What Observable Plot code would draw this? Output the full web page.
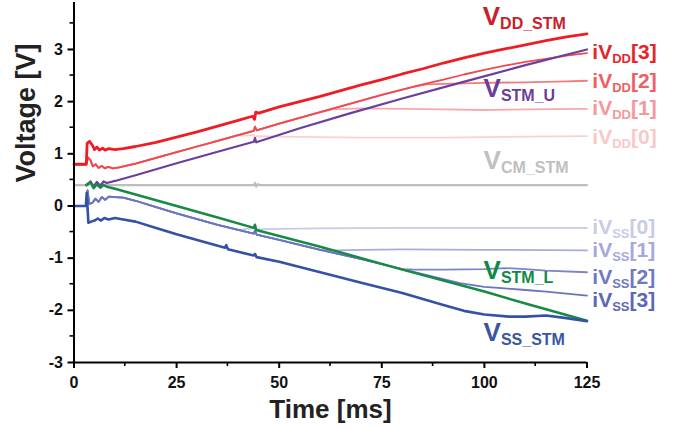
<!DOCTYPE html>
<html><head><meta charset="utf-8">
<script src="https://cdn.jsdelivr.net/npm/d3@7"></script>
<script src="https://cdn.jsdelivr.net/npm/@observablehq/plot@0.6"></script>
<style>
body{margin:0;background:#fff}
svg{font-family:"Liberation Sans",Arial,sans-serif}
</style>
</head><body><div id="chart"></div>
<script>
// ---- tick values ----
const xTicks = [0, 25, 50, 75, 100, 125];
const xMinor = [12.5, 37.5, 62.5, 87.5, 112.5];
const yTicks = [-3, -2, -1, 0, 1, 2, 3];
const yMinor = [-2.5, -1.5, -0.5, 0.5, 1.5, 2.5, 3.5];

// ---- series values [time ms, voltage V] ----
const vddStm = [[0,0.8],[3,0.8],[3.2,1.2],[3.8,1.24],[4.5,1.16],[5,1.08],[5.6,1.13],[6.2,1.07],[7,1.11],[7.6,1.07],[8.5,1.1],[10,1.08],[12,1.1],[15,1.14],[20,1.22],[25,1.32],[30,1.42],[35,1.53],[40,1.64],[43.5,1.72],[44,1.66],[44.3,1.8],[45,1.78],[50,1.9],[55,2.0],[60,2.1],[65,2.21],[70,2.32],[75,2.42],[80,2.53],[85,2.63],[90,2.74],[95,2.84],[100,2.93],[105,3.01],[110,3.09],[115,3.17],[120,3.24],[125,3.3]];
const ivddBundle = [[0,0.8],[3,0.8],[3.4,0.93],[4,0.88],[4.6,0.76],[5.3,0.8],[6,0.73],[6.8,0.77],[7.5,0.72],[8.3,0.75],[9.5,0.72],[11,0.74],[15,0.81],[20,0.92],[25,1.03],[30,1.14],[35,1.25],[40,1.36],[43.8,1.44],[44.1,1.52],[44.5,1.45],[50,1.58],[55,1.69],[60,1.8],[65,1.91],[70,2.02],[75,2.13],[80,2.23],[85,2.33],[90,2.42],[95,2.52],[100,2.61],[105,2.69],[110,2.76],[115,2.82],[120,2.88],[125,2.93]];
const ivdd0Tail = [[42,1.35],[43.8,1.36],[44.1,1.3],[44.5,1.34],[50,1.33],[60,1.32],[70,1.31],[80,1.31],[90,1.31],[100,1.32],[110,1.33],[125,1.34]];
const ivdd1Tail = [[63,1.85],[70,1.87],[80,1.86],[90,1.85],[100,1.84],[110,1.85],[125,1.86]];
const ivdd2Tail = [[83,2.29],[86,2.33],[90,2.34],[100,2.36],[110,2.37],[120,2.39],[125,2.4]];
const ivddSplit = [40, 60, 80];
const vcmStm = [[0,0.4],[3.5,0.4],[4,0.47],[4.6,0.36],[5.3,0.44],[6,0.37],[6.8,0.42],[7.5,0.4],[43.8,0.4],[44.1,0.44],[44.4,0.37],[44.8,0.42],[45.2,0.4],[125,0.4]];
const vstmU = [[3,0.4],[4,0.47],[4.8,0.37],[5.6,0.46],[6.4,0.39],[7.2,0.47],[8,0.44],[10,0.48],[15,0.59],[25,0.82],[35,1.04],[43.8,1.23],[44.1,1.3],[44.4,1.22],[55,1.49],[67,1.77],[80,2.06],[94,2.36],[110,2.7],[125,3.0]];
const vstmL = [[3,0.4],[4,0.45],[4.8,0.34],[5.6,0.42],[6.4,0.35],[7.2,0.4],[8,0.37],[10,0.33],[25,0.0],[35,-0.22],[43.8,-0.42],[44.1,-0.36],[44.4,-0.46],[60,-0.78],[80,-1.22],[100,-1.64],[110,-1.87],[125,-2.2]];
const ivssBundle = [[0,0],[3,0],[3.3,0.3],[3.7,0.04],[4.5,0.06],[5.2,0.14],[6,0.08],[6.8,0.17],[7.6,0.12],[8.5,0.18],[10,0.17],[12,0.16],[15,0.1],[20,-0.02],[25,-0.14],[30,-0.25],[35,-0.36],[40,-0.46],[43.8,-0.53],[44.1,-0.47],[44.5,-0.55],[50,-0.65],[60,-0.84],[70,-1.02],[80,-1.21],[90,-1.4],[94,-1.48],[100,-1.55],[105,-1.58],[110,-1.61],[115,-1.64],[120,-1.68],[125,-1.72]];
const ivss0Tail = [[42,-0.44],[43.8,-0.43],[44.1,-0.38],[44.5,-0.45],[50,-0.44],[60,-0.43],[80,-0.42],[100,-0.42],[125,-0.42]];
const ivss1Tail = [[64,-0.85],[70,-0.84],[80,-0.83],[100,-0.84],[125,-0.85]];
const ivss2Tail = [[83,-1.22],[90,-1.22],[100,-1.21],[105,-1.19],[110,-1.21],[115,-1.24],[125,-1.27]];
const ivssSplit = [40, 60, 80];
const vssStm = [[0,0],[2.9,0],[3.1,0.25],[3.5,-0.32],[4.2,-0.3],[5,-0.28],[5.8,-0.24],[6.6,-0.28],[7.4,-0.23],[8.4,-0.26],[10,-0.23],[12,-0.26],[15,-0.3],[20,-0.42],[25,-0.54],[30,-0.65],[36.8,-0.8],[37.1,-0.75],[37.5,-0.83],[43.8,-0.95],[44.1,-0.92],[44.5,-0.98],[50,-1.07],[60,-1.27],[70,-1.47],[80,-1.67],[90,-1.9],[95,-2.01],[100,-2.08],[106,-2.12],[110,-2.12],[115,-2.1],[120,-2.15],[125,-2.21]];

// ---- label texts and anchor positions ----
const bigLabels = ["V{DD_STM}", "V{STM_U}", "V{CM_STM}", "V{STM_L}", "V{SS_STM}"];
const bigLabelT = [99.6, 99.8, 99.8, 99.8, 99.8];
const bigLabelV = [3.63, 2.25, 0.87, -1.24, -2.42];
const smallLabels = ["iV{DD}[3]", "iV{DD}[2]", "iV{DD}[1]", "iV{DD}[0]", "iV{SS}[0]", "iV{SS}[1]", "iV{SS}[2]", "iV{SS}[3]"];
const smallLabelT = [126.3, 126.3, 126.3, 126.3, 126.3, 126.3, 126.3, 126.3];
const smallLabelV = [2.95, 2.39, 1.87, 1.31, -0.41, -0.85, -1.37, -1.81];

// ---- styles ----
const bigLabelColors = ["#c9202a", "#6a3d9a", "#c0c0c0", "#0f8a45", "#3a55a5"];
const smallLabelColors = ["#e5262c", "#ef6063", "#f4999b", "#f9c8c9", "#c8cbe8", "#a4a9d8", "#6f79c1", "#5d67b6"];

const compose = (base, cut, tail) => base.filter(d => d[0] <= cut).concat(tail);
const P = d => d[0], V = d => d[1];
const line = (data, stroke, strokeWidth) => Plot.line(data, {x: P, y: V, stroke, strokeWidth, strokeLinejoin: "round"});

const plot = Plot.plot({
  width: 680, height: 429,
  marginLeft: 73.5, marginRight: 93.5, marginTop: 2, marginBottom: 67,
  x: {domain: [0, 125], ticks: xTicks, tickSize: 6, tickPadding: 8, tickFormat: d => String(d), label: null},
  y: {domain: [-3, 3.9], ticks: yTicks, tickSize: 6, tickPadding: 5, tickFormat: d => String(d), label: null},
  color: {type: "identity"},
  style: {fontFamily: "'Liberation Sans', Arial, sans-serif", background: "#fff"},
  marks: [
    line(compose(ivddBundle, ivddSplit[0], ivdd0Tail), "#fbd0d1", 1.8),
    line(compose(ivddBundle, ivddSplit[1], ivdd1Tail), "#f6a9ab", 1.8),
    line(compose(ivddBundle, ivddSplit[2], ivdd2Tail), "#f27b7e", 1.8),
    line(compose(ivssBundle, ivssSplit[0], ivss0Tail), "#c6c9e8", 1.8),
    line(compose(ivssBundle, ivssSplit[1], ivss1Tail), "#a7acda", 1.8),
    line(compose(ivssBundle, ivssSplit[2], ivss2Tail), "#7c84c7", 1.8),
    line(ivddBundle, "#f04a50", 1.8),
    line(ivssBundle, "#6a74bf", 1.8),
    line(vcmStm, "#bdbdbd", 2.2),
    line(vstmU, "#6b3fa0", 2.2),
    line(vstmL, "#178a45", 2.5),
    line(vddStm, "#ee1d25", 2.8),
    line(vssStm, "#3451a5", 2.6),
    // axis lines
    Plot.ruleX([0], {stroke: "#000", strokeWidth: 2}),
    Plot.ruleY([-3], {stroke: "#000", strokeWidth: 2}),
    Plot.text(["Voltage [V]"], {frameAnchor: "left", rotate: -90, dx: -48, fontSize: 27, fontWeight: "bold", fill: "#222"}),
    Plot.text(["Time [ms]"], {frameAnchor: "bottom", lineAnchor: "middle", dy: 47, fontSize: 26, fontWeight: "bold", fill: "#222"}),
    // series labels
    Plot.text(bigLabels, {x: (d, i) => bigLabelT[i], y: (d, i) => bigLabelV[i], text: d => d, fill: (d, i) => bigLabelColors[i], textAnchor: "start", fontSize: 26, fontWeight: "bold"}),
    Plot.text(smallLabels, {x: (d, i) => smallLabelT[i], y: (d, i) => smallLabelV[i], text: d => d, fill: (d, i) => smallLabelColors[i], textAnchor: "start", fontSize: 21, fontWeight: "bold"})
  ]
});

// axis styling: bold tick labels, thicker ticks
const svg = plot.tagName.toLowerCase() === "svg" ? plot : plot.querySelector("svg");
svg.querySelectorAll('g[aria-label^="x-axis"], g[aria-label^="y-axis"]').forEach(g => {
  g.setAttribute("font-size", 16);
  g.style.fontSize = "16px";
  g.querySelectorAll("text").forEach(t => { t.setAttribute("font-weight", "bold"); t.setAttribute("fill", "#111"); t.style.fontSize = "16px"; });
  g.querySelectorAll("line, path").forEach(l => { l.setAttribute("stroke-width", 2); l.setAttribute("stroke", "#000"); });
  g.querySelectorAll(".domain").forEach(d => d.remove());
});

// minor ticks, positioned through the plot's own scales
const sx = plot.scale("x"), sy = plot.scale("y");
const ns = "http://www.w3.org/2000/svg";
const gMinor = document.createElementNS(ns, "g");
gMinor.setAttribute("stroke", "#000");
gMinor.setAttribute("stroke-width", 1.6);
const x0 = sx.apply(0), yb = sy.apply(-3);
yMinor.forEach(v => {
  const l = document.createElementNS(ns, "line");
  const y = sy.apply(v);
  l.setAttribute("x1", x0 - 4); l.setAttribute("x2", x0);
  l.setAttribute("y1", y); l.setAttribute("y2", y);
  gMinor.appendChild(l);
});
xMinor.forEach(t => {
  const l = document.createElementNS(ns, "line");
  const x = sx.apply(t);
  l.setAttribute("x1", x); l.setAttribute("x2", x);
  l.setAttribute("y1", yb); l.setAttribute("y2", yb + 4);
  gMinor.appendChild(l);
});
svg.appendChild(gMinor);

// turn "X{sub}tail" into real subscripted text
svg.querySelectorAll("text").forEach(el => {
  const s = el.textContent;
  const m = s.match(/^(.*?)\{(.*?)\}(.*)$/);
  if (!m) return;
  const big = !s.startsWith("i");
  el.textContent = "";
  const add = (txt, attrs) => {
    const t = document.createElementNS(ns, "tspan");
    t.textContent = txt;
    for (const k in attrs) t.setAttribute(k, attrs[k]);
    el.appendChild(t);
  };
  add(m[1], {});
  add(m[2], {"font-size": big ? 16 : 13, dy: 4});
  if (m[3]) add(m[3], {dy: -4});
});

document.getElementById("chart").appendChild(plot);
</script>
</body></html>
